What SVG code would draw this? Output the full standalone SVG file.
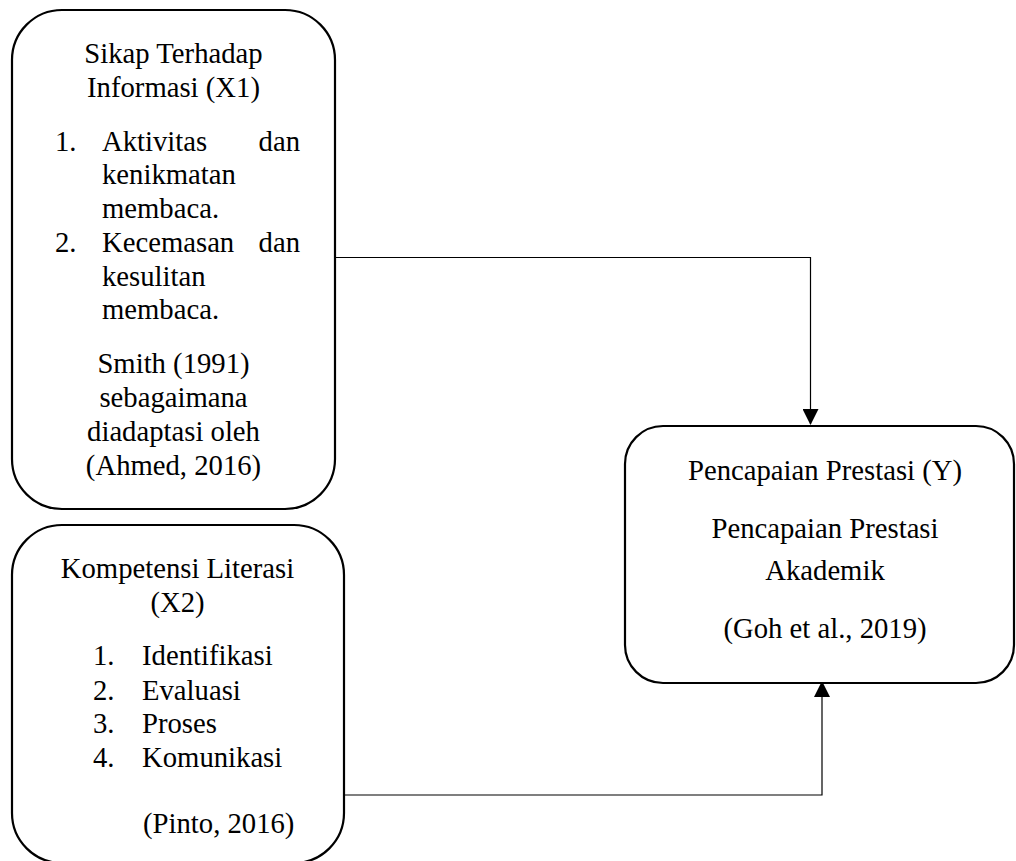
<svg xmlns="http://www.w3.org/2000/svg" width="1016" height="861" viewBox="0 0 1016 861">
<style>
.box{fill:#fff;stroke:#000;stroke-width:2.2}
.t{font-family:"Liberation Serif","Times New Roman",serif;font-size:28.7px;fill:#000}
.c{text-anchor:middle}
.e{text-anchor:end}
.conn{fill:none;stroke:#000;stroke-width:1.2}
</style>
<defs>
<marker id="ah" markerUnits="userSpaceOnUse" markerWidth="16" markerHeight="16" viewBox="0 0 16 16" refX="15" refY="8" orient="auto">
<path d="M0,0 L16,8 L0,16 Z" fill="#000"/>
</marker>
</defs>
<rect width="1016" height="861" fill="#fff"/>
<g id="connectors">
<path class="conn" d="M333,257.5 H810.5 V424" marker-end="url(#ah)"/>
<path class="conn" d="M344,795 H822 V682" marker-end="url(#ah)"/>
</g>
<g id="x1">
<rect class="box" x="12" y="10" width="323" height="499" rx="50" ry="50"/>
<text class="t c" x="173.5" y="63">Sikap Terhadap</text>
<text class="t c" x="173.5" y="97">Informasi (X1)</text>
<text class="t" x="55" y="151">1.</text>
<text class="t" x="102" y="151">Aktivitas</text>
<text class="t e" x="300" y="151">dan</text>
<text class="t" x="102" y="184">kenikmatan</text>
<text class="t" x="102" y="218">membaca.</text>
<text class="t" x="55" y="252">2.</text>
<text class="t" x="102" y="252">Kecemasan</text>
<text class="t e" x="300" y="252">dan</text>
<text class="t" x="102" y="286">kesulitan</text>
<text class="t" x="102" y="319">membaca.</text>
<text class="t c" x="173.5" y="373">Smith (1991)</text>
<text class="t c" x="173.5" y="407">sebagaimana</text>
<text class="t c" x="173.5" y="441">diadaptasi oleh</text>
<text class="t c" x="173.5" y="475">(Ahmed, 2016)</text>
</g>
<g id="x2">
<rect class="box" x="12" y="525" width="332" height="338" rx="50" ry="50"/>
<text class="t c" x="177.5" y="578">Kompetensi Literasi</text>
<text class="t c" x="177.5" y="612">(X2)</text>
<text class="t" x="93" y="665">1.</text>
<text class="t" x="142" y="665">Identifikasi</text>
<text class="t" x="93" y="700">2.</text>
<text class="t" x="142" y="700">Evaluasi</text>
<text class="t" x="93" y="733">3.</text>
<text class="t" x="142" y="733">Proses</text>
<text class="t" x="93" y="767">4.</text>
<text class="t" x="142" y="767">Komunikasi</text>
<text class="t" x="143" y="833">(Pinto, 2016)</text>
</g>
<g id="y">
<rect class="box" x="625" y="426" width="389" height="257" rx="38" ry="38"/>
<text class="t c" x="825" y="480">Pencapaian Prestasi (Y)</text>
<text class="t c" x="825" y="538">Pencapaian Prestasi</text>
<text class="t c" x="825" y="580">Akademik</text>
<text class="t c" x="825" y="638">(Goh et al., 2019)</text>
</g>
</svg>
